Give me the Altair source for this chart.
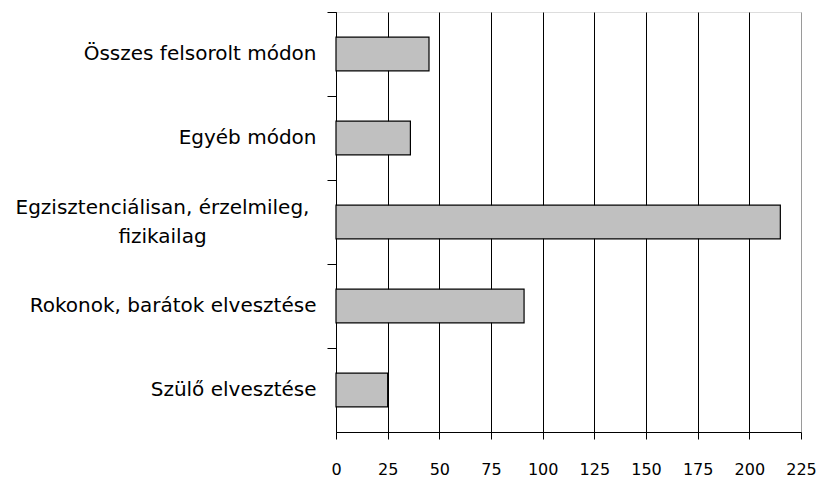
import altair as alt
import pandas as pd

categories = [
    "Összes felsorolt módon",
    "Egyéb módon",
    "Egzisztenciálisan, érzelmileg, fizikailag",
    "Rokonok, barátok elvesztése",
    "Szülő elvesztése",
]
values = [45, 36, 215, 91, 25]
x_ticks = [0, 25, 50, 75, 100, 125, 150, 175, 200, 225]

df = pd.DataFrame({"cat": categories, "val": values})

multi = "Egzisztenciálisan, érzelmileg, fizikailag"
label_expr = (
    "datum.value == '" + multi + "' ? "
    "['Egzisztenciálisan, érzelmileg,', 'fizikailag'] : datum.value"
)
is_multi = "datum.value == '" + multi + "'"

chart = (
    alt.Chart(df)
    .mark_bar(fill="#c0c0c0", stroke="black", strokeWidth=1.2,
              height=alt.RelativeBandSize(0.4))
    .encode(
        x=alt.X(
            "val:Q",
            scale=alt.Scale(domain=[0, 225], nice=False, zero=True),
            axis=alt.Axis(
                values=x_ticks,
                title=None,
                grid=True,
                gridColor={"condition": {"test": "datum.value >= 225", "value": "#9a9a9a"}, "value": "black"},
                gridWidth=1,
                domainColor="black",
                tickColor="black",
                tickSize=7,
                labelFont="DejaVu Sans",
                labelFontSize=16,
                labelColor="black",
                labelPadding=22,
                labelFlush=False,
            ),
        ),
        y=alt.Y(
            "cat:N",
            sort=categories,
            scale=alt.Scale(paddingInner=0, paddingOuter=0),
            axis=alt.Axis(
                title=None,
                bandPosition=0,
                labelExpr=label_expr,
                labelAlign={"condition": {"test": is_multi, "value": "center"}, "value": "right"},
                labelPadding={"condition": {"test": is_multi, "value": 165}, "value": 11},
                labelOffset={"condition": {"test": is_multi, "value": -14}, "value": 0},
                domainColor="black",
                tickColor="black",
                tickSize=9,
                labelFont="DejaVu Sans",
                labelFontSize=20,
                labelColor="black",
                labelLineHeight=29,
                labelLimit=400,
                grid=False,
            ),
        ),
    )
    .properties(
        width=465,
        height=420,
        autosize=alt.AutoSizeParams(type="none"),
        padding={"left": 328, "top": 4, "right": 17, "bottom": 45},
    )
    .configure_view(stroke="#9a9a9a", strokeWidth=1)
    .configure(background="white")
)

chart.save("out.html", embed_options={"renderer": "svg", "actions": False})
